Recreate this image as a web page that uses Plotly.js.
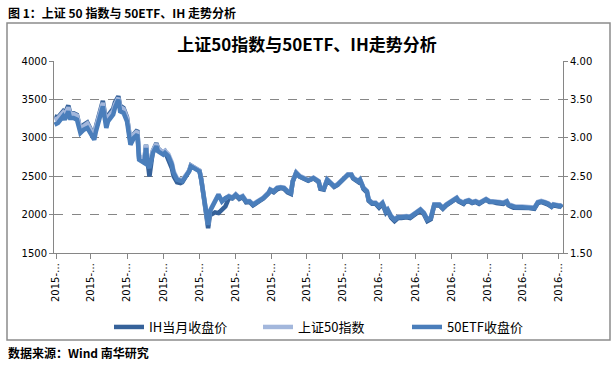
<!DOCTYPE html>
<html>
<head>
<meta charset="utf-8">
<script src="https://cdn.plot.ly/plotly-3.0.1.min.js"></script>
<style>
html,body{margin:0;padding:0;background:#fff;}
#chart{width:614px;height:366px;}
</style>
</head>
<body>
<div id="chart"></div>
<script>
// trading-day index since contract launch
var days = [0,2,5,6,8,9,11,13,15,17,
  19,21,23,24,26,28,30,31,34,35,
  37,38,40,42,44,46,48,49,52,53,
  54,55,57,59,60,63,64,66,68,69,
  71,73,74,76,78,79,82,84,85,86,
  88,89,90,92,93,95,97,99,101,103,
  105,107,109,111,113,115,118,121,124,125,
  127,129,131,133,135,137,138,140,142,144,
  147,148,150,153,154,156,158,160,162,164,
  166,168,170,172,173,176,177,179,181,182,
  184,186,188,190,192,193,195,197,199,201,
  204,206,209,212,214,216,218,220,223,225,
  227,229,231,233,234,237,238,240,242,244,
  246,248,250,252,254,256,258,260,262,263,
  266,267,271,275,278,280,282,284,286,288,
  289,292,293,294];

// IH current-month close
var ihClose = [3280,3265,3345,3320,3420,3330,3320,3300,3110,3170,
  3200,3110,3020,3150,3330,3480,3200,3290,3380,3460,
  3541,3420,3390,3270,2950,3050,3100,2740,2690,2910,
  2680,2497,2830,2930,2860,2800,2820,2720,2600,2500,
  2420,2410,2420,2495,2570,2640,2590,2570,2460,2290,
  2060,1823,1990,2010,2030,2019,2060,2106,2215,2210,
  2250,2205,2230,2160,2165,2120,2165,2210,2275,2315,
  2290,2330,2345,2335,2290,2270,2430,2545,2495,2470,
  2440,2450,2470,2425,2335,2325,2450,2405,2360,2385,
  2430,2475,2520,2515,2470,2425,2450,2335,2290,2180,
  2140,2140,2090,2140,2025,2050,1960,1915,1955,1955,
  1965,1955,2010,2055,2005,1915,1940,2120,2120,2075,
  2120,2150,2165,2210,2175,2140,2165,2175,2150,2165,
  2140,2165,2195,2165,2165,2150,2150,2140,2165,2120,
  2090,2090,2090,2085,2075,2150,2165,2150,2130,2100,
  2120,2105,2110,2090];

// SSE 50 index
var sse50 = [3235,3255,3330,3300,3395,3315,3310,3290,3120,3160,
  3185,3100,3030,3140,3310,3455,3190,3270,3350,3430,
  3520,3400,3375,3260,2965,3045,3085,2760,2715,2905,
  2690,2640,2835,2920,2855,2810,2830,2785,2675,2565,
  2470,2450,2450,2510,2575,2640,2595,2575,2465,2310,
  2090,1870,2050,2135,2200,2265,2180,2222,2244,2222,
  2266,2222,2243,2180,2178,2136,2178,2222,2288,2330,
  2308,2352,2360,2352,2308,2288,2440,2548,2504,2483,
  2452,2461,2483,2439,2352,2339,2461,2417,2374,2396,
  2439,2483,2526,2526,2483,2439,2461,2352,2308,2200,
  2156,2156,2113,2156,2048,2070,1983,1939,1974,1974,
  1983,1974,2026,2070,2026,1939,1961,2135,2135,2091,
  2135,2165,2178,2222,2191,2156,2178,2191,2165,2178,
  2156,2178,2206,2178,2178,2165,2165,2156,2178,2135,
  2104,2104,2104,2100,2091,2165,2178,2165,2147,2113,
  2135,2122,2122,2104];

// 50ETF close (right axis)
var etf50 = [3.171,3.193,3.280,3.236,3.345,3.258,3.258,3.236,3.062,3.106,
  3.128,3.041,2.975,3.084,3.258,3.410,3.128,3.214,3.302,3.389,
  3.497,3.345,3.324,3.214,2.910,2.998,3.041,2.715,2.672,2.867,
  2.650,2.607,2.802,2.889,2.823,2.780,2.802,2.758,2.650,2.541,
  2.454,2.432,2.432,2.497,2.563,2.628,2.584,2.563,2.454,2.301,
  2.084,1.866,2.041,2.128,2.193,2.258,2.171,2.215,2.236,2.215,
  2.258,2.215,2.236,2.171,2.171,2.128,2.171,2.215,2.280,2.323,
  2.301,2.345,2.352,2.345,2.301,2.280,2.432,2.541,2.497,2.476,
  2.445,2.454,2.476,2.432,2.345,2.332,2.454,2.410,2.367,2.389,
  2.432,2.476,2.519,2.519,2.476,2.432,2.454,2.345,2.301,2.193,
  2.149,2.149,2.106,2.149,2.041,2.063,1.976,1.932,1.967,1.967,
  1.976,1.967,2.019,2.063,2.019,1.932,1.954,2.128,2.128,2.084,
  2.128,2.158,2.171,2.215,2.184,2.149,2.171,2.184,2.158,2.171,
  2.149,2.171,2.199,2.171,2.171,2.158,2.158,2.149,2.171,2.128,
  2.097,2.097,2.097,2.093,2.084,2.158,2.171,2.158,2.140,2.106,
  2.128,2.115,2.115,2.097];

var tickDays = [1,21,42,63,84,105,126,146,167,188,209,230,251,271,292];
var tickLabels = ["2015-…","2015-…","2015-…","2015-…","2015-…","2015-…","2015-…","2015-…","2015-…",
  "2016-…","2016-…","2016-…","2016-…","2016-…","2016-…"];
var leftTicks = [1500,2000,2500,3000,3500,4000];
var rightTicks = [1.5,2.0,2.5,3.0,3.5,4.0];
var rightTickText = ["1.50","2.00","2.50","3.00","3.50","4.00"];
var seriesNames = ["IH当月收盘价","上证50指数","50ETF收盘价"];

var traces = [
  {x: days, y: ihClose, name: seriesNames[0], type:'scatter', mode:'lines',
   line:{color:'#36629A', width:4.5}, yaxis:'y'},
  {x: days, y: sse50, name: seriesNames[1], type:'scatter', mode:'lines',
   line:{color:'#A3B7DC', width:4.5}, yaxis:'y'},
  {x: days, y: etf50, name: seriesNames[2], type:'scatter', mode:'lines',
   line:{color:'#4A7EBB', width:4.5}, yaxis:'y2'}
];

var W = 614, H = 366, L = 54, R = 563, T = 61, B = 253;
function px2x(p){ return (p - L) / (R - L); }
function py2y(p){ return (B - p) / (B - T); }

var tickFont = {family:'DejaVu Sans, sans-serif', size:10, color:'#000'};

var layout = {
  width: W, height: H,
  margin: {l: L, r: W - R, t: T, b: H - B, pad: 0},
  paper_bgcolor: '#fff', plot_bgcolor: '#fff',
  showlegend: true,
  title: {text: '上证50指数与50ETF、IH走势分析', x: 0.5, xanchor:'center', y: 1 - 45/H, yanchor:'middle',
          font: {family: '"Noto Sans CJK SC", sans-serif', size: 17, color:'#000', weight: 700}},
  xaxis: {range: [-0.3, 294.6], tickmode:'array', tickvals: tickDays, ticktext: tickLabels,
          tickangle: -90, ticks:'outside', ticklen: 5, tickcolor:'#868686', tickfont: tickFont,
          showline: true, linecolor:'#868686', linewidth: 1, showgrid: false, zeroline:false,
          automargin: false, fixedrange: true},
  yaxis: {range: [1500, 4000], tickmode:'array', tickvals: leftTicks, ticks:'outside', ticklen: 4,
          tickcolor:'#868686', tickfont: tickFont, showline: true, linecolor:'#868686', linewidth: 1,
          showgrid: true, gridcolor:'#868686', griddash:'dash', gridwidth: 1, zeroline:false,
          automargin:false},
  yaxis2: {range: [1.5, 4.0], overlaying:'y', side:'right', tickmode:'array', tickvals: rightTicks,
          ticktext: rightTickText, ticks:'outside', ticklen: 4, tickcolor:'#868686', tickfont: tickFont,
          showline:true, linecolor:'#868686', linewidth:1, showgrid:false, zeroline:false, automargin:false},
  legend: {orientation:'h', x: px2x(109), xanchor:'left', y: py2y(327), yanchor:'middle',
           font:{family:'"Noto Sans CJK SC", sans-serif', size:13, color:'#000'},
           entrywidth: 104, entrywidthmode:'pixels', bgcolor:'rgba(0,0,0,0)', traceorder:'normal'},
  shapes: [
    {type:'rect', xref:'paper', yref:'paper', x0: px2x(7), x1: px2x(610), y0: py2y(340), y1: py2y(23),
     line:{color:'#8c8c8c', width:1.5}, fillcolor:'rgba(0,0,0,0)', layer:'below'}
  ],
  annotations: [
    {text:'图 1：上证 50 指数与 50ETF、IH 走势分析', xref:'paper', yref:'paper', x: px2x(6), y: py2y(12),
     xanchor:'left', yanchor:'middle', showarrow:false,
     font:{family:'"Noto Sans CJK SC", sans-serif', size:12, color:'#000', weight:700}},
    {text:'数据来源：Wind 南华研究', xref:'paper', yref:'paper', x: px2x(6), y: py2y(352),
     xanchor:'left', yanchor:'middle', showarrow:false,
     font:{family:'"Noto Sans CJK SC", sans-serif', size:12, color:'#000', weight:700}}
  ]
};

Plotly.newPlot('chart', traces, layout, {displayModeBar:false, staticPlot:true});
</script>
</body>
</html>
